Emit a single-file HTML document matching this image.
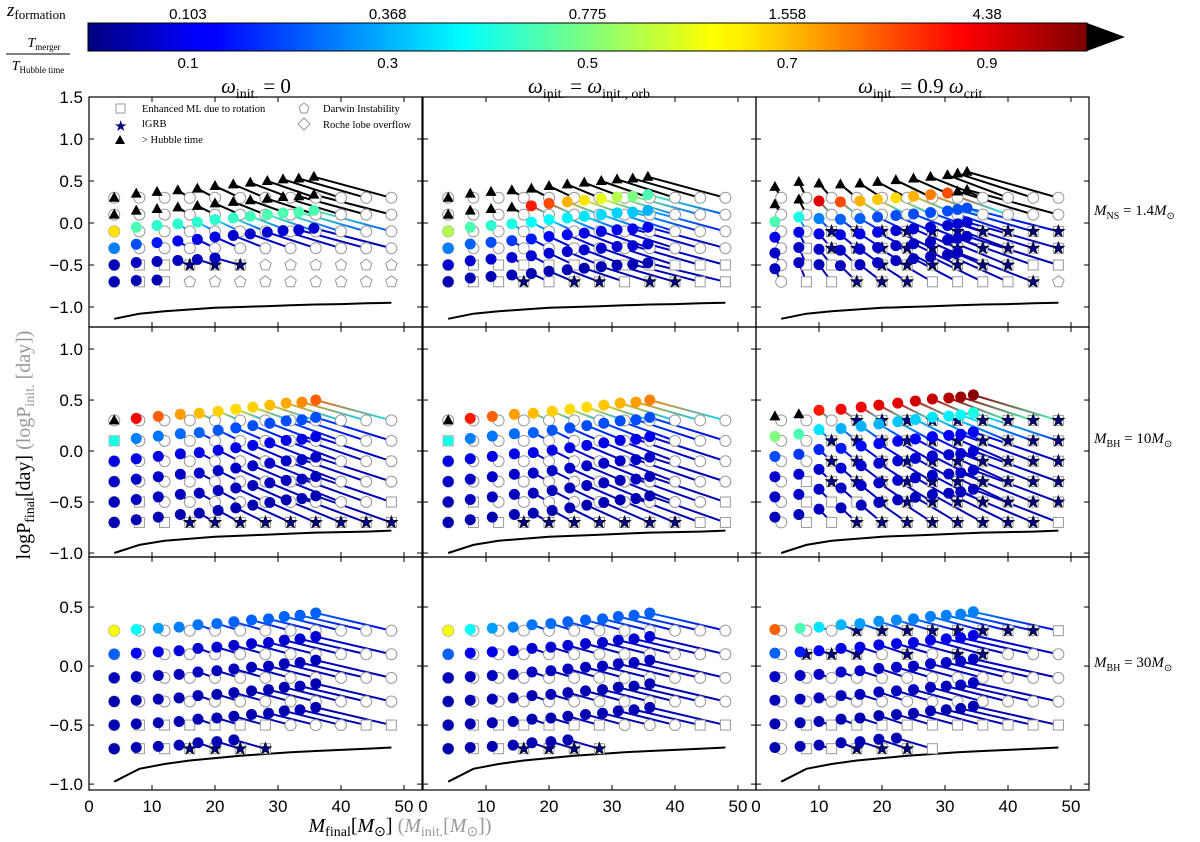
<!DOCTYPE html>
<html><head><meta charset="utf-8">
<style>
body{margin:0;background:#fff;}
svg{display:block;font-family:"Liberation Sans",sans-serif;}
.tk{font-size:17px;fill:#000;}
.ser{font-family:"Liberation Serif",serif;}
</style></head>
<body>
<svg id="fig" width="1200" height="842" viewBox="0 0 1200 842" xmlns="http://www.w3.org/2000/svg">
<defs id="defs">
<linearGradient id="jet" x1="0" x2="1" y1="0" y2="0">
<stop offset="0" stop-color="#00007f"/><stop offset="0.11" stop-color="#0000ff"/><stop offset="0.125" stop-color="#0000ff"/>
<stop offset="0.34" stop-color="#00dbff"/><stop offset="0.375" stop-color="#00ffff"/><stop offset="0.5" stop-color="#7fff7f"/><stop offset="0.625" stop-color="#ffff00"/>
<stop offset="0.66" stop-color="#ffeb00"/><stop offset="0.875" stop-color="#ff0000"/><stop offset="1" stop-color="#7f0000"/>
</linearGradient>
</defs>
<g>
<rect x="88" y="23" width="999" height="28" fill="url(#jet)" stroke="#000" stroke-width="1"/>
<polygon points="1087,23 1125,37 1087,51" fill="#000"/>
<text class="ser" x="7" y="16" font-size="19" font-style="italic">z<tspan font-size="13" font-style="normal" dy="3">formation</tspan></text>
<text class="ser" x="44" y="47" font-size="14" font-style="italic" text-anchor="middle">T<tspan font-size="9" font-style="normal" dy="3">merger</tspan></text>
<line x1="6" y1="54" x2="70" y2="54" stroke="#000" stroke-width="1"/>
<text class="ser" x="38" y="70" font-size="14" font-style="italic" text-anchor="middle">T<tspan font-size="9" font-style="normal" dy="3">Hubble time</tspan></text>
</g>
<g id="cbticks"></g>
<g id="plots"></g>
<g class="ser" font-size="21">
<text x="256" y="93" text-anchor="middle"><tspan font-style="italic">ω</tspan><tspan font-size="14" dy="5">init.</tspan><tspan dy="-5"> = 0</tspan></text>
<text x="589" y="93" text-anchor="middle"><tspan font-style="italic">ω</tspan><tspan font-size="14" dy="5">init.</tspan><tspan dy="-5"> = </tspan><tspan font-style="italic">ω</tspan><tspan font-size="14" dy="5">init., orb</tspan></text>
<text x="922" y="93" text-anchor="middle"><tspan font-style="italic">ω</tspan><tspan font-size="14" dy="5">init.</tspan><tspan dy="-5"> = 0.9 </tspan><tspan font-style="italic">ω</tspan><tspan font-size="14" dy="5">crit.</tspan></text>
</g>
<g class="ser" font-size="15">
<text x="1094" y="215"><tspan font-style="italic">M</tspan><tspan font-size="10" dy="4">NS</tspan><tspan dy="-4"> = 1.4</tspan><tspan font-style="italic">M</tspan><tspan font-size="10" dy="4">⊙</tspan></text>
<text x="1094" y="443"><tspan font-style="italic">M</tspan><tspan font-size="10" dy="4">BH</tspan><tspan dy="-4"> = 10</tspan><tspan font-style="italic">M</tspan><tspan font-size="10" dy="4">⊙</tspan></text>
<text x="1094" y="667"><tspan font-style="italic">M</tspan><tspan font-size="10" dy="4">BH</tspan><tspan dy="-4"> = 30</tspan><tspan font-style="italic">M</tspan><tspan font-size="10" dy="4">⊙</tspan></text>
</g>
<text class="ser" font-size="20" transform="translate(30,445) rotate(-90)" text-anchor="middle">logP<tspan font-size="14" dy="4">final</tspan><tspan dy="-4">[day] </tspan><tspan fill="#999">(logP<tspan font-size="14" dy="4">init.</tspan><tspan dy="-4"> [day])</tspan></tspan></text>
<text class="ser" font-size="20" x="400" y="832" text-anchor="middle"><tspan font-style="italic">M</tspan><tspan font-size="14" dy="4">final</tspan><tspan dy="-4">[</tspan><tspan font-style="italic">M</tspan><tspan font-size="14" dy="4">⊙</tspan><tspan dy="-4">]   </tspan><tspan fill="#999">(<tspan font-style="italic">M</tspan><tspan font-size="14" dy="4">init.</tspan><tspan dy="-4">[</tspan><tspan font-style="italic">M</tspan><tspan font-size="14" dy="4">⊙</tspan><tspan dy="-4">])</tspan></tspan></text>
<g class="ser" font-size="10.5">
<rect x="116" y="104" width="9" height="9" fill="none" stroke="#999"/>
<text x="142" y="112">Enhanced ML due to rotation</text>
<text x="114" y="131" font-size="15" fill="#00007f">★</text>
<text x="142" y="127">lGRB</text>
<polygon points="120,135 125,144 115,144" fill="#000"/>
<text x="142" y="143">&gt; Hubble time</text>
<polygon points="304,103 309,107 307,113 301,113 299,107" fill="none" stroke="#999"/>
<text x="323" y="112">Darwin Instability</text>
<polygon points="304,118 310,124 304,130 298,124" fill="none" stroke="#999"/>
<text x="323" y="128">Roche lobe overflow</text>
</g>
</svg>
<script>
const cbTopLabels = ["0.103","0.368","0.775","1.558","4.38"];
const cbBotLabels = ["0.1","0.3","0.5","0.7","0.9"];
const cbTickVals = [0.1,0.3,0.5,0.7,0.9];
const massInit = [4,8,12,16,20,24,28,32,36,40,44,48];
const periodInit = [0.3,0.1,-0.1,-0.3,-0.5,-0.7];
const xTicks = [0,10,20,30,40,50];
const yTicksRows = [[1.5,1.0,0.5,0.0,-0.5,-1.0],[1.0,0.5,0.0,-0.5,-1.0],[0.5,0.0,-0.5,-1.0]];
const limitRow1 = [-1.14,-1.08,-1.05,-1.03,-1.01,-1.0,-0.99,-0.98,-0.97,-0.965,-0.955,-0.95];
const limitRow2 = [-1.0,-0.92,-0.88,-0.86,-0.84,-0.83,-0.82,-0.81,-0.80,-0.795,-0.79,-0.78];
const limitRow3 = [-0.98,-0.87,-0.83,-0.80,-0.78,-0.76,-0.745,-0.73,-0.72,-0.71,-0.70,-0.69];
const fmA = [4,7.5,10.8,14.1,17.2,20,22.9,25.6,28.3,30.8,33.3,35.7];
const dpA = [0,0.05,0.07,0.09,0.11,0.14,0.16,0.18,0.2,0.22,0.23,0.25];
const rsA = [1,0.95,1,0.95,0.6,0.3];
const codeA = ["oooooooooooo","oooooooooooo","oooooooooooo","oooooooooooo","oss***pppppp","ossppppppppp"];
const colA = ['k','k',[0.65,0.45,0.42,0.42,0.42,0.42,0.43,0.44,0.45,0.45,0.45,0.45],[0.25,0.2,0.15,0.12,0.1,0.1,0.08,0.08,0.08,0.08,0.08,0.08],0.06,0.05];
const fmB = [4,7.5,10.8,14.1,17.2,20,22.9,25.6,28.3,30.8,33.3,35.7];
const dpB = [0,0.05,0.07,0.09,0.11,0.14,0.16,0.18,0.2,0.22,0.23,0.25];
const rsB = [1,0.95,1,1,1,0.9];
const codeB = ["oooooooooooo","oooooooooooo","oooooooooooo","oooooooooooo","osssssssssss","oss*s**s**ss"];
const colB = ['k',['k','k','k','k',0.85,0.8,0.7,0.65,0.6,0.55,0.5,0.45],[0.55,0.45,0.42,0.4,0.38,0.37,0.36,0.35,0.34,0.33,0.32,0.3],[0.25,0.22,0.2,0.18,0.15,0.13,0.12,0.1,0.1,0.1,0.1,0.1],0.08,0.05];
const fmC = [3,6.8,10,13.4,16.5,19.3,22.2,25,27.7,30.4,32,33.5];
const dpC = [0.13,0.19,0.17,0.16,0.17,0.19,0.21,0.23,0.25,0.27,0.29,0.31];
const rsC = [1,0.95,0.9,1.0,1.1,1.2];
const codeC = ["oooooooooooo","oooooooooooo","oo**********","os**********","osss******ss","oss***ssss*p"];
const colC = ['k',['k','k',0.9,0.8,0.7,0.68,0.66,0.7,0.75,0.8,'k','k'],[0.45,0.4,0.25,0.22,0.22,0.2,0.2,0.2,0.2,0.2,0.2,0.2],[0.1,0.1,0.1,0.1,0.1,0.1,0.08,0.08,0.08,0.08,0.08,0.08],0.07,0.06];
const fmD = [4,7.5,11,14.5,17.5,20.5,23.3,26,28.7,31.3,33.8,36];
const dpD = [0,0.02,0.04,0.06,0.07,0.09,0.11,0.13,0.15,0.17,0.18,0.2];
const rsD = [1,1.15,1.2,1.2,1.25,1.3];
const codeD = ["oooooooooooo","sooooooooooo","oooooooooooo","oooooooooooo","osooooooooos","oss*********"];
const colD = [['k',0.88,0.78,0.72,0.69,0.67,0.66,0.67,0.69,0.71,0.74,0.78],[0.4,0.25,0.24,0.23,0.22,0.21,0.2,0.2,0.2,0.2,0.2,0.2],0.1,0.07,0.06,0.05];
const fmE = [4,7.5,11,14.5,17.5,20.5,23.3,26,28.7,31.3,33.8,36];
const dpE = [0,0.02,0.04,0.06,0.07,0.09,0.11,0.13,0.15,0.17,0.18,0.2];
const rsE = [1,1.15,1.2,1.2,1.25,1.3];
const codeE = ["oooooooooooo","sooooooooooo","oooooooooooo","oooooooooooo","osooooooooos","oss*******ss"];
const colE = [['k',0.85,0.78,0.72,0.69,0.67,0.66,0.66,0.68,0.7,0.72,0.75],[0.4,0.25,0.24,0.23,0.22,0.21,0.2,0.2,0.2,0.2,0.2,0.2],0.1,0.07,0.06,0.05];
const fmF = [3,6.8,10,13.5,16.7,19.5,22.5,25.3,28,30.6,32.5,34.5];
const dpF = [0.04,0.06,0.1,0.11,0.13,0.15,0.17,0.19,0.21,0.22,0.23,0.25];
const rsF = [1,1.1,1.15,1.2,1.25,1.3];
const codeF = ["ooo*********","oo**********","oo**********","os**********","osss********","oss********s"];
const colF = [['k','k',0.85,0.88,0.88,0.9,0.9,0.92,0.93,0.95,0.97,0.99],[0.5,0.45,0.35,0.3,0.3,0.3,0.32,0.33,0.35,0.36,0.38,0.4],[0.2,0.18,0.16,0.15,0.14,0.13,0.12,0.12,0.12,0.12,0.12,0.12],0.08,0.07,0.06];
const fmG = [4,7.5,11,14.3,17.3,20.3,23,25.8,28.5,31,33.5,36];
const dpG = [0,0.01,0.02,0.03,0.05,0.06,0.075,0.09,0.1,0.12,0.13,0.15];
const rsG = [1,1,1,1,1,1];
const codeG = ["oooooooooooo","oooooooooooo","oooooooooooo","oooooooooooo","ossssssoooss","oss****-----"];
const colG = [[0.62,0.38,0.28,0.25,0.24,0.23,0.22,0.22,0.22,0.22,0.22,0.22],[0.22,0.12,0.1,0.09,0.08,0.08,0.08,0.08,0.08,0.08,0.08,0.08],0.06,0.05,0.05,0.05];
const fmH = [4,7.5,11,14.3,17.3,20.3,23,25.8,28.5,31,33.5,36];
const dpH = [0,0.01,0.02,0.03,0.05,0.06,0.075,0.09,0.1,0.12,0.13,0.15];
const rsH = [1,1,1,1,1,1];
const codeH = ["oooooooooooo","oooooooooooo","oooooooooooo","oooooooooooo","ossssssoooss","oss****-----"];
const colH = [[0.62,0.38,0.28,0.25,0.24,0.23,0.22,0.22,0.22,0.22,0.22,0.22],[0.22,0.12,0.1,0.09,0.08,0.08,0.08,0.08,0.08,0.08,0.08,0.08],0.06,0.05,0.05,0.05];
const fmI = [3,7,10,13.5,16.5,19.5,22.3,25,27.7,30.2,32.5,34.5];
const dpI = [0.01,0.02,0.03,0.05,0.06,0.08,0.09,0.1,0.12,0.13,0.14,0.16];
const rsI = [1,1,1,1,1,1];
const codeI = ["ooo********s","o***o*o**ooo","oooooooooooo","oooooooooooo","osssssssssss","oss***s-----"];
const colI = [[0.78,0.45,0.35,0.3,0.28,0.27,0.26,0.25,0.25,0.25,0.25,0.25],[0.22,0.15,0.12,0.1,0.1,0.1,0.1,0.1,0.1,0.1,0.1,0.1],0.07,0.06,0.05,0.05];

const NS = "http://www.w3.org/2000/svg";
function mk(tag, attrs, parent){const e=document.createElementNS(NS,tag);for(const k in attrs)e.setAttribute(k,attrs[k]);parent.appendChild(e);return e;}
function cl(v){return Math.max(0,Math.min(1,v));}
function jet(t){const r=cl(1.5-Math.abs(4*t-3)),g=cl(1.5-Math.abs(4*t-2)),b=cl(1.5-Math.abs(4*t-1));return `rgb(${Math.round(r*255)},${Math.round(g*255)},${Math.round(b*255)})`;}
const defs=document.getElementById('defs');
let gid=0;

const cbg=document.getElementById('cbticks');
function cbX(v){return 88+999*v;}
cbTickVals.forEach((v,i)=>{
  const t1=mk('text',{x:cbX(v),y:19,'text-anchor':'middle','font-size':'15'},cbg);t1.textContent=cbTopLabels[i];
  
  
  const t2=mk('text',{x:cbX(v),y:68,'text-anchor':'middle','font-size':'15'},cbg);t2.textContent=cbBotLabels[i];
  
  
});

const colX=[89,423,756], W=333, XMAX=52.86;
const rowsG=[{top:97,bot:327,ymax:1.5,ymin:-1.238},{top:327,bot:557,ymax:1.216,ymin:-1.039},{top:557,bot:790,ymax:0.924,ymin:-1.05}];
const limits=[limitRow1,limitRow2,limitRow3];
const panels=[[ [fmA,dpA,rsA,codeA,colA],[fmB,dpB,rsB,codeB,colB],[fmC,dpC,rsC,codeC,colC] ],
 [ [fmD,dpD,rsD,codeD,colD],[fmE,dpE,rsE,codeE,colE],[fmF,dpF,rsF,codeF,colF] ],
 [ [fmG,dpG,rsG,codeG,colG],[fmH,dpH,rsH,codeH,colH],[fmI,dpI,rsI,codeI,colI] ]];
const plots=document.getElementById('plots');

function star(g,x,y,r,fill){let p=[];for(let k=0;k<10;k++){const a=-Math.PI/2+k*Math.PI/5,rr=k%2?r*0.42:r;p.push((x+rr*Math.cos(a)).toFixed(1)+','+(y+rr*Math.sin(a)).toFixed(1));}return mk('polygon',{points:p.join(' '),fill:fill,stroke:'#000','stroke-width':0.6},g);}
function pent(g,x,y,r){let p=[];for(let k=0;k<5;k++){const a=-Math.PI/2+k*2*Math.PI/5;p.push((x+r*Math.cos(a)).toFixed(1)+','+(y+r*Math.sin(a)).toFixed(1));}return mk('polygon',{points:p.join(' '),fill:'#fff',stroke:'#999','stroke-width':1},g);}

for(let ri=0;ri<3;ri++){
 const R=rowsG[ri];
 const sy=v=>R.top+(R.ymax-v)*(R.bot-R.top)/(R.ymax-R.ymin);
 for(let ci=0;ci<3;ci++){
  const x0=colX[ci];
  const sx=v=>x0+v*W/XMAX;
  const g=mk('g',{},plots);
  
  
  const [fm,dp,rs,codes,cols]=panels[ri][ci];
  const lim=limits[ri];
  const lc=mk('polyline',{points:massInit.map((m,j)=>sx(m).toFixed(1)+','+sy(lim[j]).toFixed(1)).join(' '),fill:'none',stroke:'#000','stroke-width':2},g);
  
  
  const lines=mk('g',{},g),inits=mk('g',{},g),fins=mk('g',{},g);
  periodInit.forEach((p0,r)=>{
   massInit.forEach((m0,j)=>{
    const ch=codes[r][j]; if(ch==='-')return;
    const ix=sx(m0),iy=sy(p0);
    if(ch==='p'){const e=pent(inits,ix,iy,6);return;}
    const cv=Array.isArray(cols[r])?cols[r][j]:cols[r];
    const fx=sx(fm[j]),fy=sy(p0+dp[j]*rs[r]);
    const color=cv==='k'?'#000':jet(cv);
    let stroke=color;
    if(cv!=='k'){
      const id='tg'+(gid++);
      const lg=mk('linearGradient',{id:id,gradientUnits:'userSpaceOnUse',x1:fx,y1:fy,x2:ix,y2:iy},defs);
      mk('stop',{offset:'0','stop-color':color},lg);
      mk('stop',{offset:'1','stop-color':jet(Math.max(0.05,cv*0.45))},lg);
      stroke='url(#'+id+')';
    }
    const ln=mk('line',{x1:ix,y1:iy,x2:fx,y2:fy,stroke:stroke,'stroke-width':2},lines);
    
    
    let im;
    if(ch==='o'){im=mk('circle',{cx:ix,cy:iy,r:5.5,fill:'#fff',stroke:'#999','stroke-width':1},inits);}
    else{im=mk('rect',{x:ix-5,y:iy-5,width:10,height:10,fill:'#fff',stroke:'#999','stroke-width':1},inits);}
    
    
    if(ch==='*'){const s=star(inits,ix,iy,6.5,'#00007f');}
    let fmk;
    if(cv==='k'){fmk=mk('polygon',{points:`${fx},${fy-6} ${fx+5.5},${fy+4} ${fx-5.5},${fy+4}`,fill:'#000'},fins);}
    else{fmk=mk('circle',{cx:fx,cy:fy,r:5.5,fill:color},fins);}
    
    
   });
  });
  const fr=mk('rect',{x:x0,y:R.top,width:W,height:R.bot-R.top,fill:'none',stroke:'#000','stroke-width':1.2},g);
  
  
  xTicks.forEach(v=>{
   mk('line',{x1:sx(v),x2:sx(v),y1:R.bot,y2:R.bot-5,stroke:'#000'},g);
   mk('line',{x1:sx(v),x2:sx(v),y1:R.top,y2:R.top+5,stroke:'#000'},g);
   if(ri===2){const t=mk('text',{x:sx(v),y:812,'text-anchor':'middle',class:'tk'},g);t.textContent=String(v);
    
    }
  });
  yTicksRows[ri].forEach(v=>{
   mk('line',{x1:x0,x2:x0+5,y1:sy(v),y2:sy(v),stroke:'#000'},g);
   mk('line',{x1:x0+W,x2:x0+W-5,y1:sy(v),y2:sy(v),stroke:'#000'},g);
   if(ci===0){const t=mk('text',{x:x0-6,y:sy(v)+6,'text-anchor':'end',class:'tk'},g);t.textContent=(v<0?'−':'')+Math.abs(v).toFixed(1);
    
    }
  });
 }
}
</script>
</body></html>
